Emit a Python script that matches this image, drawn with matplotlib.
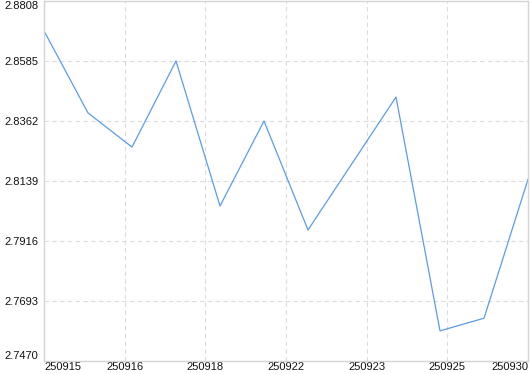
import matplotlib
matplotlib.use('Agg')
import matplotlib.pyplot as plt
import numpy as np

plt.rcParams['font.family'] = 'Liberation Sans'

# data
values = [2.8697, 2.8392, 2.8265, 2.8585, 2.8046, 2.8362,
          2.7957, 2.8204, 2.8451, 2.7582, 2.7629, 2.8145]
x_labels = ['250915', '250916', '250918', '250922', '250923', '250925', '250930']
y_ticks = [2.7470, 2.7693, 2.7916, 2.8139, 2.8362, 2.8585, 2.8808]

fig = plt.figure(figsize=(5.3, 3.74), dpi=100)
ax = fig.add_axes([44 / 530, 13 / 374, 484 / 530, 360 / 374])

x = np.arange(len(values))
ax.plot(x, values, color='#5b9bef', linewidth=0.9)

ax.set_xlim(0, len(values) - 1)
ax.set_ylim(y_ticks[0], y_ticks[-1])

xt = np.linspace(0, len(values) - 1, len(x_labels))
ax.set_xticks(xt)
ax.set_xticklabels(x_labels)
ax.set_yticks(y_ticks)
ax.set_yticklabels([f'{v:.4f}' for v in y_ticks])

ax.tick_params(length=0, labelsize=8.0, colors='#111111')
ax.tick_params(axis='x', pad=0.8)
ax.tick_params(axis='y', pad=4)

xl = ax.get_xticklabels()
xl[0].set_ha('left')
xl[-1].set_ha('right')
yl = ax.get_yticklabels()
yl[0].set_va('bottom')
yl[-1].set_va('top')

ax.grid(True, color='#dcdcdc', linestyle=(0, (4, 3)), linewidth=0.8)
ax.set_axisbelow(True)
for s in ax.spines.values():
    s.set_color('#d4d4d4')
    s.set_linewidth(1.0)

fig.savefig('out.png', dpi=100)
